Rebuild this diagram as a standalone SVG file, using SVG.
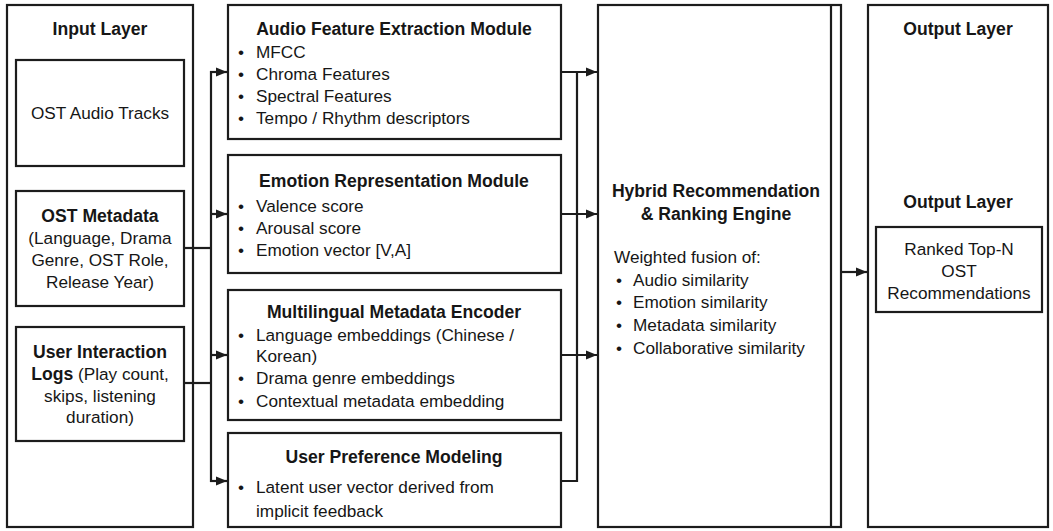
<svg xmlns="http://www.w3.org/2000/svg" width="1053" height="531" viewBox="0 0 1053 531">
  <defs>
    <style>
      .box { fill: #ffffff; stroke: #1c1c1c; stroke-width: 2.2; }
      .wire { fill: none; stroke: #1c1c1c; stroke-width: 2.2; }
      text { font-family: "Liberation Sans", Arial, sans-serif; fill: #161616; font-size: 17.2px; }
      .h { font-weight: bold; font-size: 17.6px; }
      .c { text-anchor: middle; }
    </style>
    <marker id="arrow" viewBox="0 0 11 10" refX="11" refY="5" markerWidth="11" markerHeight="10" markerUnits="userSpaceOnUse" orient="auto">
      <path d="M0,0.5 L11,5 L0,9.5 Z" fill="#1c1c1c"/>
    </marker>
  </defs>

  <rect width="1053" height="531" fill="#ffffff"/>

  <!-- Input layer column -->
  <g id="input-layer">
    <rect class="box" x="7" y="5" width="186" height="522"/>
    <text class="h c" x="100" y="35">Input Layer</text>
  </g>
  <g id="ost-audio-tracks">
    <rect class="box" x="16" y="60" width="168" height="106"/>
    <text class="c" x="100" y="119">OST Audio Tracks</text>
  </g>
  <g id="ost-metadata">
    <rect class="box" x="16" y="191" width="168" height="115"/>
    <text class="h c" x="100" y="222">OST Metadata</text>
    <text class="c" x="100" y="244">(Language, Drama</text>
    <text class="c" x="100" y="266">Genre, OST Role,</text>
    <text class="c" x="100" y="288">Release Year)</text>
  </g>
  <g id="user-interaction-logs">
    <rect class="box" x="16" y="327" width="168" height="114"/>
    <text class="h c" x="100" y="358">User Interaction</text>
    <text class="c" x="100" y="380"><tspan font-weight="bold" font-size="17.6">Logs</tspan> (Play count,</text>
    <text class="c" x="100" y="402">skips, listening</text>
    <text class="c" x="100" y="423">duration)</text>
  </g>

  <!-- Processing modules -->
  <g id="audio-feature-extraction">
    <rect class="box" x="228" y="5" width="333" height="134"/>
    <text class="h c" x="394" y="35">Audio Feature Extraction Module</text>
    <text x="238" y="58">•</text><text x="256" y="58">MFCC</text>
    <text x="238" y="80">•</text><text x="256" y="80">Chroma Features</text>
    <text x="238" y="102">•</text><text x="256" y="102">Spectral Features</text>
    <text x="238" y="124">•</text><text x="256" y="124">Tempo / Rhythm descriptors</text>
  </g>
  <g id="emotion-representation">
    <rect class="box" x="228" y="155" width="333" height="118"/>
    <text class="h c" x="394" y="187">Emotion Representation Module</text>
    <text x="238" y="212">•</text><text x="256" y="212">Valence score</text>
    <text x="238" y="234">•</text><text x="256" y="234">Arousal score</text>
    <text x="238" y="256">•</text><text x="256" y="256">Emotion vector [V,A]</text>
  </g>
  <g id="multilingual-metadata-encoder">
    <rect class="box" x="228" y="290" width="333" height="130"/>
    <text class="h c" x="394" y="318">Multilingual Metadata Encoder</text>
    <text x="238" y="341">•</text><text x="256" y="341">Language embeddings (Chinese /</text>
    <text x="256" y="362">Korean)</text>
    <text x="238" y="384">•</text><text x="256" y="384">Drama genre embeddings</text>
    <text x="238" y="407">•</text><text x="256" y="407">Contextual metadata embedding</text>
  </g>
  <g id="user-preference-modeling">
    <rect class="box" x="228" y="433" width="333" height="94"/>
    <text class="h c" x="394" y="463">User Preference Modeling</text>
    <text x="238" y="493">•</text><text x="256" y="493">Latent user vector derived from</text>
    <text x="256" y="517">implicit feedback</text>
  </g>

  <!-- Fusion engine -->
  <g id="hybrid-engine">
    <rect class="box" x="598" y="5" width="243" height="522"/>
    <line class="wire" x1="831" y1="5" x2="831" y2="527"/>
    <text class="h c" x="716" y="197">Hybrid Recommendation</text>
    <text class="h c" x="716" y="220">&amp; Ranking Engine</text>
    <text x="614" y="263">Weighted fusion of:</text>
    <text x="616" y="286">•</text><text x="633" y="286">Audio similarity</text>
    <text x="616" y="308">•</text><text x="633" y="308">Emotion similarity</text>
    <text x="616" y="331">•</text><text x="633" y="331">Metadata similarity</text>
    <text x="616" y="354">•</text><text x="633" y="354">Collaborative similarity</text>
  </g>

  <!-- Output column -->
  <g id="output-layer">
    <rect class="box" x="868" y="5" width="180" height="522"/>
    <text class="h c" x="958" y="35">Output Layer</text>
    <text class="h c" x="958" y="208">Output Layer</text>
  </g>
  <g id="ranked-recommendations">
    <rect class="box" x="876" y="227" width="166" height="85"/>
    <text class="c" x="959" y="255">Ranked Top-N</text>
    <text class="c" x="959" y="277">OST</text>
    <text class="c" x="959" y="299">Recommendations</text>
  </g>

  <!-- Connectors -->
  <g id="connectors">
    <!-- inputs to modules -->
    <line class="wire" x1="184" y1="248" x2="211" y2="248"/>
    <line class="wire" x1="184" y1="383" x2="211" y2="383"/>
    <line class="wire" x1="211" y1="71" x2="211" y2="482"/>
    <line class="wire" x1="210" y1="72" x2="227" y2="72" marker-end="url(#arrow)"/>
    <line class="wire" x1="210" y1="214" x2="227" y2="214" marker-end="url(#arrow)"/>
    <line class="wire" x1="210" y1="355" x2="227" y2="355" marker-end="url(#arrow)"/>
    <line class="wire" x1="210" y1="481" x2="227" y2="481" marker-end="url(#arrow)"/>
    <!-- modules to engine -->
    <line class="wire" x1="561" y1="72" x2="597" y2="72" marker-end="url(#arrow)"/>
    <line class="wire" x1="561" y1="214" x2="597" y2="214" marker-end="url(#arrow)"/>
    <line class="wire" x1="561" y1="355" x2="597" y2="355" marker-end="url(#arrow)"/>
    <polyline class="wire" points="561,481 577,481 577,71"/>
    <!-- engine to output -->
    <line class="wire" x1="841" y1="272" x2="867" y2="272" marker-end="url(#arrow)"/>
  </g>
</svg>
